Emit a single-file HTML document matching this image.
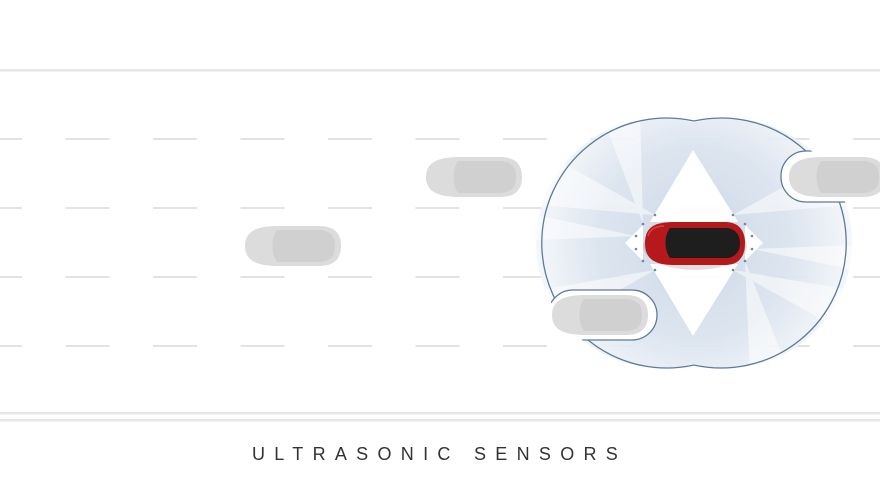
<!DOCTYPE html>
<html><head><style>
html,body{margin:0;padding:0;background:#fff;width:880px;height:487px;overflow:hidden}
.t{position:absolute;left:252px;top:444px;font-family:"Liberation Sans",sans-serif;font-size:18px;letter-spacing:9.3px;color:#333;white-space:nowrap}
</style></head><body>
<svg width="880" height="487" style="position:absolute;left:0;top:0">
<defs>
<radialGradient id="g" cx="694" cy="243" r="160" gradientUnits="userSpaceOnUse">
<stop offset="0" stop-color="#c9d6e6"/><stop offset="0.6" stop-color="#dae3ee"/><stop offset="1" stop-color="#f4f7fb"/>
</radialGradient>
<clipPath id="cl"><circle cx="661" cy="243" r="125"/><circle cx="727" cy="243" r="125"/></clipPath>
<mask id="m" maskUnits="userSpaceOnUse" x="0" y="0" width="880" height="487">
<rect x="0" y="0" width="880" height="487" fill="#fff"/>
<rect x="781" y="151" width="140" height="51" rx="25" fill="#000"/>
<rect x="548" y="290" width="109" height="50" rx="25" fill="#000"/>
</mask>
<g id="gc">
<path d="M6 22 C6 6 20 2 40 2 L80 2 C96 2 102 10 102 22 C102 34 96 42 80 42 L40 42 C20 42 6 38 6 22Z" fill="#dcdcdc"/>
<path d="M38 6 L82 6 C94 8 96 14 96 22 C96 30 94 36 82 38 L38 38 C32 30 32 14 38 6Z" fill="#d0d0d0"/>
</g>
</defs>
<rect x="0" y="69" width="880" height="2.5" fill="#e6e6e6"/>
<rect x="0" y="412" width="880" height="2.5" fill="#e6e6e6"/>
<rect x="0" y="419" width="880" height="2.5" fill="#e6e6e6"/>
<g stroke="#e3e3e3" stroke-width="2">
<line x1="-22" y1="139" x2="880" y2="139" stroke-dasharray="44 43.5"/>
<line x1="-22" y1="208" x2="880" y2="208" stroke-dasharray="44 43.5"/>
<line x1="-22" y1="277" x2="880" y2="277" stroke-dasharray="44 43.5"/>
<line x1="-22" y1="346" x2="880" y2="346" stroke-dasharray="44 43.5"/>
</g>
<g mask="url(#m)">
<g clip-path="url(#cl)" opacity="0.92">
<rect x="530" y="110" width="330" height="270" fill="url(#g)"/>
<g fill="#fff" opacity="0.55">
<polygon points="655,215 540,150 540,205"/><polygon points="636,236 536,215 536,240"/>
<polygon points="655,270 540,335 540,290"/><polygon points="733,215 850,150 850,205"/>
<polygon points="752,249 855,270 855,245"/><polygon points="733,270 850,335 850,290"/>
<polygon points="643,224 600,110 640,110"/><polygon points="745,261 790,375 750,375"/>
</g>
<polygon points="693,150 650,222 738,222" fill="#fff"/>
<polygon points="693,336 650,264 738,264" fill="#fff"/>
<polygon points="643,225 625,243 643,261" fill="#fff"/>
<polygon points="745,225 763,243 745,261" fill="#fff"/>
</g>
<path d="M694 121 A125 125 0 1 0 694 365 A125 125 0 1 0 694 121Z" fill="none" stroke="#5c7a9c" stroke-width="1.3"/>
</g>
<g clip-path="url(#cl)" fill="none" stroke="#5c7a9c" stroke-width="1.3">
<rect x="781" y="151" width="140" height="51" rx="25"/>
<rect x="548" y="290" width="109" height="50" rx="25"/>
</g>
<use href="#gc" x="420" y="155"/>
<use href="#gc" x="239" y="224"/>
<use href="#gc" x="546" y="293"/>
<use href="#gc" x="783" y="155"/>
<g fill="#6f87a6">
<circle cx="643" cy="224" r="1.3"/><circle cx="655" cy="215" r="1.3"/><circle cx="636" cy="236" r="1.3"/><circle cx="636" cy="249" r="1.3"/><circle cx="643" cy="261" r="1.3"/><circle cx="655" cy="270" r="1.3"/>
<circle cx="745" cy="224" r="1.3"/><circle cx="733" cy="215" r="1.3"/><circle cx="752" cy="236" r="1.3"/><circle cx="752" cy="249" r="1.3"/><circle cx="745" cy="261" r="1.3"/><circle cx="733" cy="270" r="1.3"/>
</g>
<ellipse cx="695" cy="246" rx="52" ry="24" fill="#000" opacity="0.12"/>
<path d="M645 243 C645 226 656 222 675 222 L725 222 C740 222 745 232 745 243 C745 255 740 265 725 265 L675 265 C656 265 645 260 645 243Z" fill="#b5191b"/>
<path d="M670 228 L728 228 C738 230 740 238 740 243 C740 249 738 256 728 258 L670 258 C664 250 664 236 670 228Z" fill="#1e1e1e"/>
<path d="M648 236 C650 228 658 226 664 226" fill="none" stroke="#e04040" stroke-width="1.5"/>
</svg>
<div class="t">ULTRASONIC SENSORS</div>
</body></html>
